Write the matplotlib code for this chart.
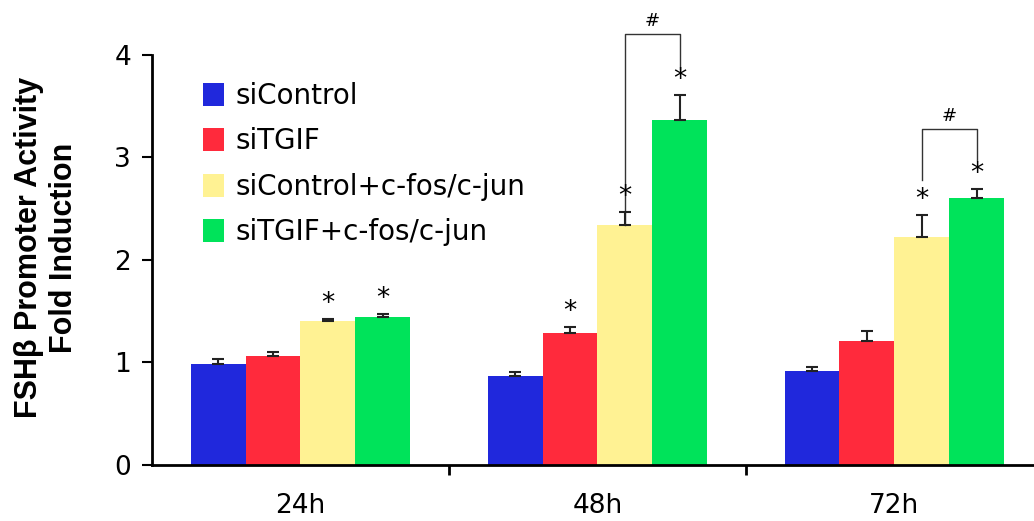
import matplotlib.pyplot as plt
import numpy as np

timepoints = ["24h", "48h", "72h"]
groups = ["siControl", "siTGIF", "siControl+c-fos/c-jun", "siTGIF+c-fos/c-jun"]
colors = ["#2028DC", "#FF2A3C", "#FFF293", "#00E35A"]

si_control = [0.99, 0.87, 0.92]
si_tgif = [1.06, 1.29, 1.21]
si_control_fos = [1.40, 2.34, 2.22]
si_tgif_fos = [1.44, 3.37, 2.60]

err_control = [0.04, 0.04, 0.04]
err_tgif = [0.04, 0.06, 0.10]
err_control_fos = [0.02, 0.13, 0.22]
err_tgif_fos = [0.03, 0.24, 0.09]

# which bars get a star (group index, timepoint index)
stars = [(2, 0), (3, 0), (1, 1), (2, 1), (3, 1), (2, 2), (3, 2)]
# brackets: (timepoint, bracket top, left leg bottom, right leg bottom)
brackets = [(1, 4.2, 2.34, 3.86), (2, 3.28, 2.78, 2.98)]

values = [si_control, si_tgif, si_control_fos, si_tgif_fos]
errors = [err_control, err_tgif, err_control_fos, err_tgif_fos]

fig = plt.figure(figsize=(10.34, 5.21), dpi=100)
ax = fig.add_axes([0.147, 0.1075, 0.853, 0.787])

x = np.arange(len(timepoints))
width = 0.185
for i, (vals, errs) in enumerate(zip(values, errors)):
    pos = x + (i - 1.5) * width
    ax.bar(pos, vals, width, color=colors[i], label=groups[i], zorder=2)
    ax.errorbar(pos, vals, yerr=[np.zeros(len(errs)), errs], fmt="none",
                ecolor="#222222", elinewidth=1.5, capsize=4.5, capthick=1.5, zorder=3)

for gi, ti in stars:
    xp = x[ti] + (gi - 1.5) * width
    top = values[gi][ti] + errors[gi][ti]
    ax.text(xp, top + 0.02, "*", ha="center", va="bottom", fontsize=19,
            family="DejaVu Sans")

for ti, ytop, yl, yr in brackets:
    xl = x[ti] + 0.5 * width
    xr = x[ti] + 1.5 * width
    ax.plot([xl, xl, xr, xr], [yl, ytop, ytop, yr], color="#333333", lw=1.0,
            clip_on=False)
    ax.text((xl + xr) / 2, ytop + 0.04, "#", ha="center", va="bottom", fontsize=13)

ax.set_xlim(-0.5, 2.47)
ax.set_ylim(0, 4)
ax.set_yticks([0, 1, 2, 3, 4])
ax.set_xticks(x)
ax.set_xticklabels(timepoints)
ax.set_xticks([0.5, 1.5], minor=True)
ax.tick_params(axis="x", which="major", length=0, labelsize=19, pad=20)
ax.tick_params(axis="x", which="minor", length=7, width=2, direction="out")
ax.tick_params(axis="y", length=7, width=1.5, labelsize=19, pad=8)
for s in ["top", "right"]:
    ax.spines[s].set_visible(False)
ax.spines["left"].set_linewidth(2)
ax.spines["bottom"].set_linewidth(2)

ax.set_ylabel("FSH\u03b2 Promoter Activity\nFold Induction", fontsize=22,
              fontweight="bold", family="Liberation Sans", linespacing=1.2)
ax.yaxis.set_label_coords(-0.083, 0.53)

ax.legend(loc="upper left", bbox_to_anchor=(0.058, 0.935), frameon=False,
          fontsize=20, handlelength=0.75, handleheight=0.9, handletextpad=0.4,
          labelspacing=0.63, borderpad=0, borderaxespad=0)

fig.savefig("out.png", dpi=100)
